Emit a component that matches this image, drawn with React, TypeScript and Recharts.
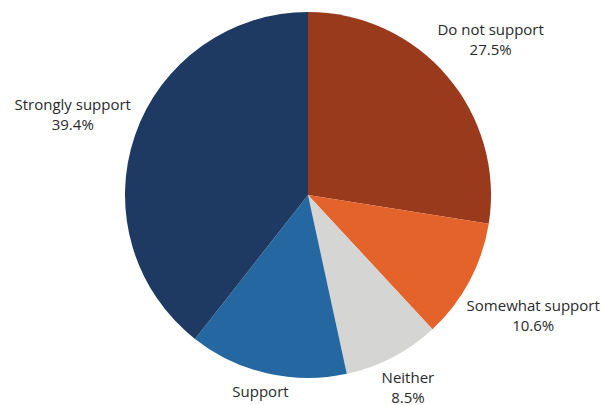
import React from "react";
import { PieChart, Pie, Cell } from "recharts";

const labels = ["Do not support", "Somewhat support", "Neither", "Support", "Strongly support"];
const shares = [27.5, 10.6, 8.5, 14.0, 39.4];
const colors = ["#9a3a1d", "#e4632a", "#d5d5d3", "#2568a1", "#1e3a63"];

const data = labels.map((name, i) => ({ name, value: shares[i] }));

const FONT = "15px 'Open Sans'";
let ctx: CanvasRenderingContext2D | null = null;
const textWidth = (s: string) => {
  if (!ctx) ctx = document.createElement("canvas").getContext("2d");
  if (!ctx) return s.length * 8;
  ctx.font = FONT;
  return ctx.measureText(s).width;
};

const RAD = Math.PI / 180;

// label block pushed out along the slice's mid angle until it clears the rim
const renderLabel = (props: any) => {
  const { cx, cy, midAngle, outerRadius, name, value } = props;
  const cos = Math.cos(-midAngle * RAD);
  const sin = Math.sin(-midAngle * RAD);
  const hw = textWidth(name) / 2;
  const d = outerRadius + 5 + hw * Math.abs(cos) + 18 * Math.abs(sin);
  const x = cx + d * cos;
  const y = cy + d * sin;
  return (
    <text
      x={x}
      y={y}
      textAnchor="middle"
      fill="#2a2a2a"
      style={{ font: FONT }}
    >
      <tspan x={x} dy={-4}>{name}</tspan>
      <tspan x={x} dy={20}>{value.toFixed(1)}%</tspan>
    </text>
  );
};

export default function App() {
  return (
    <div style={{ position: "absolute", left: 0, top: 0, background: "#fff" }}>
      <PieChart width={602} height={405} margin={{ top: 0, right: 0, bottom: 0, left: 0 }}>
        <Pie
          data={data}
          dataKey="value"
          nameKey="name"
          cx={308}
          cy={195}
          outerRadius={183}
          startAngle={90}
          endAngle={-270}
          stroke="none"
          label={renderLabel}
          labelLine={false}
          isAnimationActive={false}
        >
          {data.map((d, i) => (
            <Cell key={d.name} fill={colors[i]} />
          ))}
        </Pie>
      </PieChart>
    </div>
  );
}
